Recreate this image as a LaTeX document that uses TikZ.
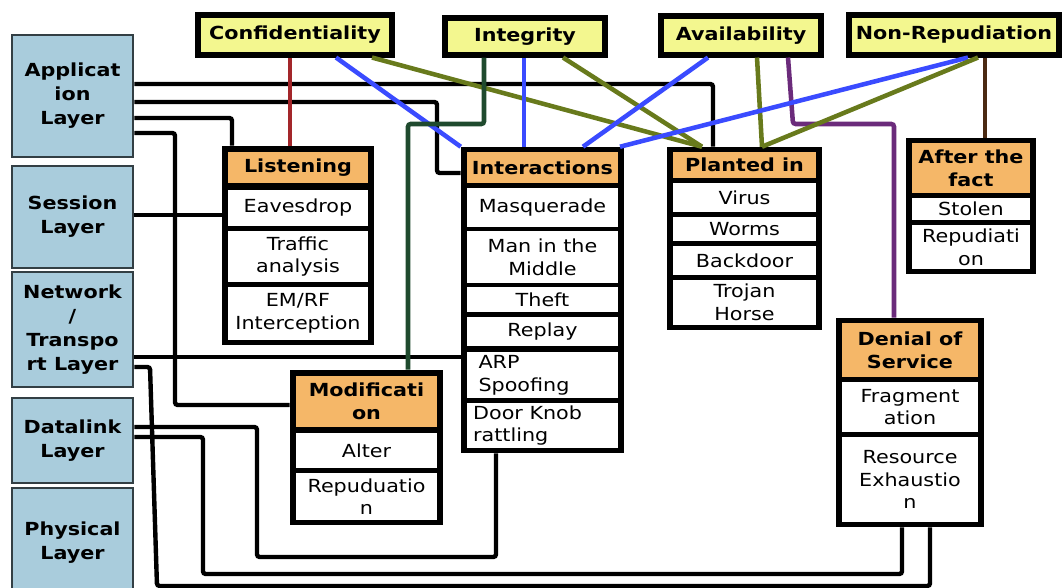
\documentclass[tikz,border=0pt]{standalone}
\usepackage{fontspec}
\setmainfont{DejaVu Sans}[FakeStretch=1.15]
\definecolor{layerblue}{HTML}{A9CCDC}
\definecolor{layerline}{HTML}{333F44}
\definecolor{propyellow}{HTML}{F3F78F}
\definecolor{headorange}{HTML}{F5B768}
\definecolor{confred}{HTML}{A3262A}
\definecolor{linkblue}{HTML}{3A4BFF}
\definecolor{linkolive}{HTML}{687A1C}
\definecolor{linkgreen}{HTML}{1F4A2E}
\definecolor{linkpurple}{HTML}{6B2B7B}
\definecolor{linkbrown}{HTML}{4B2A12}

\begin{document}
\begin{tikzpicture}[x=0.75pt,y=-0.75pt,
  layer/.style={draw=layerline, fill=layerblue, line width=2.2pt, inner sep=0pt, align=center,
                minimum width=121*0.75pt, font=\bfseries\fontsize{13.5}{18}\selectfont},
  prop/.style={draw=black, fill=propyellow, line width=3.8pt, inner sep=0pt,
               font=\bfseries\fontsize{13.5}{17}\selectfont},
  grp/.style={fill=black, inner sep=0pt},
  head/.style={fill=headorange, inner sep=0pt, align=center, font=\bfseries\fontsize{13.5}{17}\selectfont},
  cell/.style={fill=white, inner sep=0pt, align=center, font=\fontsize{13.5}{17}\selectfont},
  wire/.style={line width=3.3pt, black, rounded corners=2pt},
  tie/.style={line width=3.4pt}]
\def\u{0.75pt}
\useasboundingbox (0,0) rectangle (1064,588);

% OSI layers
\node [layer, minimum height=122*\u, name=app] at (72.5,96) {Applicat\\ion\\Layer};
\node [layer, minimum height=102*\u, name=ses] at (72.5,217) {Session\\Layer};
\node [layer, minimum height=115*\u, name=net] at (72.5,329.5) {Network\\/\\Transpo\\rt Layer};
\node [layer, minimum height=85*\u, name=dl] at (72.5,440.5) {Datalink\\Layer};
\node [layer, minimum height=110*\u, name=phy] at (72.5,543) {Physical\\Layer};

% security goals
\node [prop, minimum width=194*\u, minimum height=40*\u, name=conf] at (295,35) {Confidentiality};
\node [prop, minimum width=160*\u, minimum height=37*\u, name=integ] at (525,36.5) {Integrity};
\node [prop, minimum width=160*\u, minimum height=39*\u, name=avail] at (741,35.5) {Availability};
\node [prop, minimum width=210*\u, minimum height=40*\u, name=nonrep] at (954,35) {Non-Repudiation};

% Listening
\node [grp, minimum width=152*\u, minimum height=199*\u, name=lis] at (298,245.5) {};
\node [head, minimum width=140*\u, minimum height=31*\u, name=lis0] at (298,167.5) {Listening};
\node [cell, minimum width=140*\u, minimum height=36*\u, name=lis1] at (298,208) {Eavesdrop};
\node [cell, minimum width=140*\u, minimum height=51*\u, name=lis2] at (298,256.5) {Traffic\\analysis};
\node [cell, minimum width=140*\u, minimum height=53*\u, name=lis3] at (298,313.5) {EM/RF\\Interception};

% Interactions
\node [grp, minimum width=163*\u, minimum height=306*\u, name=inter] at (542.5,300) {};
\node [head, minimum width=151*\u, minimum height=31*\u, name=int0] at (542.5,167.5) {Interactions};
\node [cell, minimum width=151*\u, minimum height=39*\u, name=int1] at (542.5,207.5) {Masquerade};
\node [cell, minimum width=151*\u, minimum height=52*\u, name=int2] at (542.5,257) {Man in the\\Middle};
\node [cell, minimum width=151*\u, minimum height=25*\u, name=int3] at (542.5,299.5) {Theft};
\node [cell, minimum width=151*\u, minimum height=29*\u, name=int4] at (542.5,331.5) {Replay};
\node [cell, minimum width=151*\u, minimum height=46*\u, name=int5] at (542.5,375) {\makebox[96pt][l]{ARP}\\\makebox[96pt][l]{Spoofing}};
\node [cell, minimum width=151*\u, minimum height=45*\u, name=int6] at (542.5,425.5) {\makebox[104pt][l]{Door Knob}\\\makebox[104pt][l]{rattling}};

% Planted in
\node [grp, minimum width=155*\u, minimum height=183*\u, name=plant] at (744.5,238.5) {};
\node [head, minimum width=143*\u, minimum height=26*\u, name=pl0] at (744.5,165) {Planted in};
\node [cell, minimum width=143*\u, minimum height=29*\u, name=pl1] at (744.5,197.5) {Virus};
\node [cell, minimum width=143*\u, minimum height=24*\u, name=pl2] at (744.5,229) {Worms};
\node [cell, minimum width=143*\u, minimum height=29*\u, name=pl3] at (744.5,260.5) {Backdoor};
\node [cell, minimum width=143*\u, minimum height=45*\u, name=pl4] at (744.5,302.5) {Trojan\\Horse};

% After the fact
\node [grp, minimum width=130*\u, minimum height=136*\u, name=after] at (971,206) {};
\node [head, minimum width=118*\u, minimum height=50*\u, name=af0] at (971,168) {After the\\fact};
\node [cell, minimum width=118*\u, minimum height=22*\u, name=af1] at (971,209) {Stolen};
\node [cell, minimum width=118*\u, minimum height=44*\u, name=af2] at (971,247) {Repudiati\\on};

% Modification
\node [grp, minimum width=153*\u, minimum height=155*\u, name=modi] at (366.5,447.5) {};
\node [head, minimum width=141*\u, minimum height=51*\u, name=mod0] at (366.5,401.5) {Modificati\\on};
\node [cell, minimum width=141*\u, minimum height=35*\u, name=mod1] at (366.5,450.5) {Alter};
\node [cell, minimum width=141*\u, minimum height=47*\u, name=mod2] at (366.5,496.5) {Repuduatio\\n};

% Denial of Service
\node [grp, minimum width=148*\u, minimum height=209*\u, name=dos] at (910,422.5) {};
\node [head, minimum width=136*\u, minimum height=54*\u, name=dos0] at (910,350) {Denial of\\Service};
\node [cell, minimum width=136*\u, minimum height=50*\u, name=dos1] at (910,407) {Fragment\\ation};
\node [cell, minimum width=136*\u, minimum height=85*\u, name=dos2] at (910,479.5) {Resource\\Exhaustio\\n};

% layer links
\draw [wire] (app.east |- 0,84) -| (713,0 |- plant.north);
\draw [wire] (app.east |- 0,102) -| (437,173) -- (inter.west |- 0,173);
\draw [wire] (app.east |- 0,118) -| (232,0 |- lis.north);
\draw [wire] (app.east |- 0,133) -| (175,405) -- (modi.west |- 0,405);
\draw [wire] (ses.east |- 0,215) -- (lis.west |- 0,215);
\draw [wire] (net.east |- 0,357) -- (inter.west |- 0,357);
\draw [wire] (net.east |- 0,367) -- (150,367) -- (157,586) -| (930,0 |- dos.south);
\draw [wire] (dl.east |- 0,427) -| (257,557) -| (496,0 |- inter.south);
\draw [wire] (dl.east |- 0,437) -| (203,574) -| (902,0 |- dos.south);

% goal links
\draw [tie, confred] (conf.south -| 290,0) -- (lis.north -| 290,0);
\draw [tie, linkblue] (conf.south -| 336,0) -- (inter.north west);
\draw [tie, linkolive] (conf.south -| 372,0) -- (plant.north -| 702,0);
\draw [tie, linkgreen, rounded corners=2pt] (integ.south -| 484,0) |- (408,124) -- (modi.north -| 408,0);
\draw [tie, linkblue] (integ.south -| 524,0) -- (inter.north -| 524,0);
\draw [tie, linkolive] (integ.south -| 563,0) -- (plant.north -| 702,0);
\draw [tie, linkblue] (avail.south -| 708,0) -- (inter.north -| 583,0);
\draw [tie, linkolive] (avail.south -| 757,0) -- (plant.north -| 762,0);
\draw [tie, linkpurple, rounded corners=2pt] (avail.south -| 788,0) -- (793,124) -| (dos.north -| 894,0);
\draw [tie, linkblue] (nonrep.south -| 968,0) -- (inter.north -| 620,0);
\draw [tie, linkolive] (nonrep.south -| 978,0) -- (plant.north -| 762,0);
\draw [tie, linkbrown] (nonrep.south -| 985,0) -- (after.north -| 985,0);
\end{tikzpicture}
\end{document}
